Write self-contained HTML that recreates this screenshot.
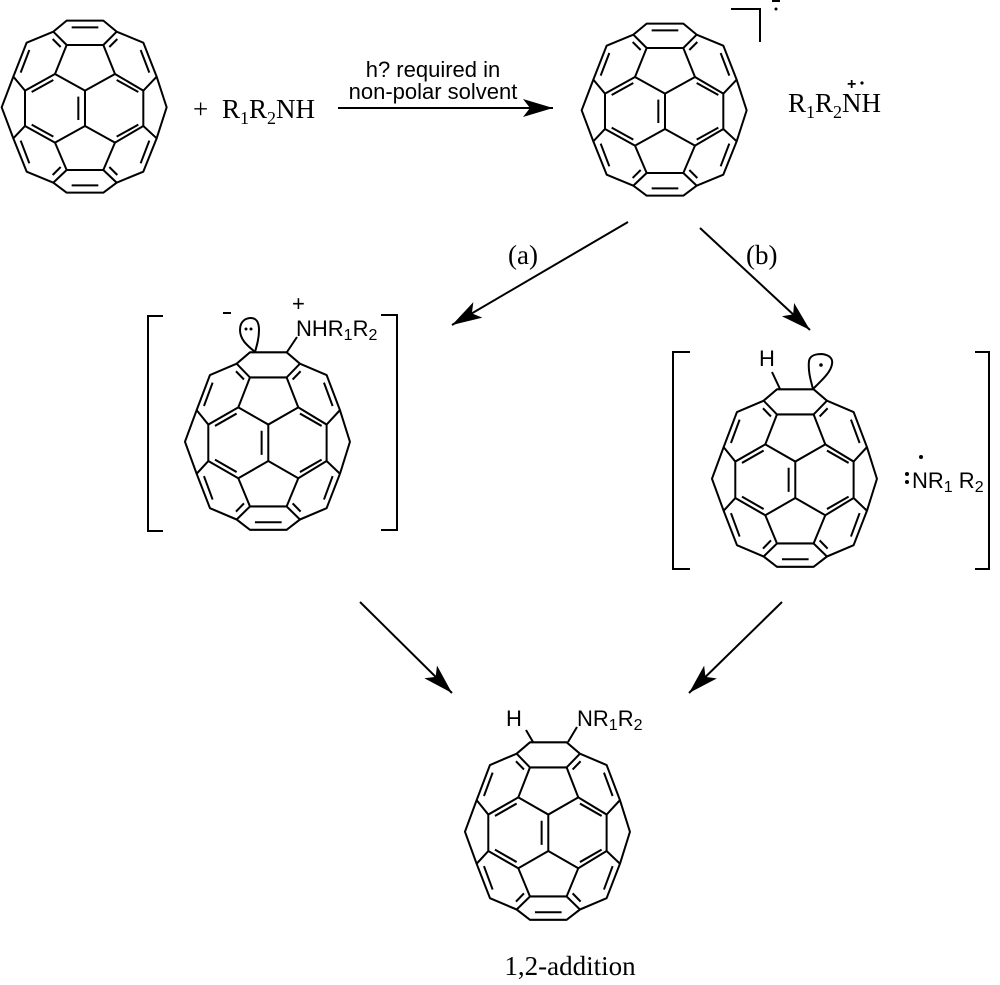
<!DOCTYPE html>
<html><head><meta charset="utf-8"><style>
body{margin:0;background:#fff}
svg{display:block}
.s{font-family:"Liberation Serif",serif;font-size:27px}
.a{font-family:"Liberation Sans",sans-serif;font-size:22px}
</style></head><body>
<svg width="1000" height="985" viewBox="0 0 1000 985" xmlns="http://www.w3.org/2000/svg">
<defs>
<marker id="ah" markerUnits="userSpaceOnUse" markerWidth="32" markerHeight="20" refX="30" refY="9" orient="auto">
<path d="M0,0 L30,9 L0,18 L7,9 Z" fill="#000"/>
</marker>
<g id="cage" fill="none" stroke="#000" stroke-width="6" stroke-linejoin="round">
<path d="M200,62 L310,62 L350,95 L430,128 L470,230 L500,322 L470,415 L430,515 L350,548 L310,578 L200,578 L160,548 L80,515 L40,415 L5,322 L40,230 L80,128 L160,95 Z"/>
<path d="M160,95 L200,135 L310,135 L350,95"/>
<path d="M200,135 L165,222 L255,272 L345,222 L310,135"/>
<path d="M40,230 L75,272 L165,222 M75,272 L75,378 L40,415 M75,378 L165,428 L255,378 L255,272 M255,378 L345,428 L430,378 L430,272 L345,222 M430,272 L470,230 M430,378 L470,415 M165,428 L200,510 L310,510 L345,428 M200,510 L160,548 M310,510 L350,548"/>
<path d="M158,117 L182,141 M352,117 L328,141 M88,150 L62,218 M422,150 L448,218 M160,240 L95,276 M350,240 L415,276 M235,290 L235,360 M95,374 L160,410 M415,374 L350,410 M62,422 L88,490 M448,422 L422,490 M158,525 L182,501 M328,501 L352,525 M215,556 L295,556"/>
</g>
<g id="full"><use href="#cage"/><path d="M215,82 L295,82" stroke="#000" stroke-width="6"/></g>
</defs>

<!-- C60 1 -->
<g transform="translate(0,0) scale(0.3333)"><use href="#full"/></g>
<text class="s" x="193" y="118">+</text>
<text class="s" x="222" y="118">R<tspan font-size="18" dy="6">1</tspan><tspan dy="-6">R</tspan><tspan font-size="18" dy="6">2</tspan><tspan dy="-6">NH</tspan></text>
<line x1="338" y1="108" x2="553" y2="108" stroke="#000" stroke-width="2" marker-end="url(#ah)"/>
<text class="a" x="433" y="77" text-anchor="middle" font-size="18">h? required in</text>
<text class="a" x="433" y="99" text-anchor="middle" font-size="18">non-polar solvent</text>

<!-- C60 2 -->
<g transform="translate(580,3) scale(0.3333)"><use href="#full"/></g>
<path d="M731,9 L760,9 L760,42" fill="none" stroke="#000" stroke-width="2"/>
<circle cx="776" cy="9" r="1.5"/><line x1="772" y1="1" x2="780" y2="1" stroke="#000" stroke-width="2"/>
<text class="s" x="788" y="112">R<tspan font-size="18" dy="6">1</tspan><tspan dy="-6">R</tspan><tspan font-size="18" dy="6">2</tspan><tspan dy="-6">NH</tspan></text>
<text x="847" y="89" font-family="Liberation Sans" font-size="16" font-weight="bold">+</text><circle cx="862" cy="83" r="1.6"/>

<!-- arrows a,b -->
<line x1="628" y1="222" x2="452" y2="325" stroke="#000" stroke-width="2" marker-end="url(#ah)"/>
<line x1="700" y1="228" x2="810" y2="330" stroke="#000" stroke-width="2" marker-end="url(#ah)"/>
<text class="s" x="508" y="264" font-size="24">(a)</text>
<text class="s" x="746" y="264" font-size="24">(b)</text>

<!-- intermediate a -->
<g transform="translate(183.3,331) scale(0.3333,0.344)"><use href="#cage"/></g>
<path d="M163,316 L148,316 L148,531 L163,531 M381,315 L397,315 L397,530 L381,530" fill="none" stroke="#000" stroke-width="2"/>
<path d="M255,352 C248,346 240,340 240,330 C240,320 247,318 251,318 C256,318 259,322 259,330 C259,338 257,345 255,352" fill="none" stroke="#000" stroke-width="2"/>
<circle cx="246" cy="329" r="1.5"/><circle cx="251" cy="329" r="1.5"/>
<line x1="223" y1="313" x2="231" y2="313" stroke="#000" stroke-width="2"/>
<line x1="287" y1="352" x2="297" y2="337" stroke="#000" stroke-width="2"/>
<text class="a" x="296" y="336">NHR<tspan font-size="16" dy="4">1</tspan><tspan dy="-4">R</tspan><tspan font-size="16" dy="4">2</tspan></text>
<text class="a" x="292" y="311" font-size="18">+</text>

<!-- intermediate b -->
<g transform="translate(710.3,368) scale(0.3333,0.344)"><use href="#cage"/></g>
<path d="M690,352 L673,352 L673,569 L690,569 M975,352 L989,352 L989,569 L975,569" fill="none" stroke="#000" stroke-width="2"/>
<text class="a" x="759" y="366">H</text>
<line x1="780" y1="389" x2="772" y2="372" stroke="#000" stroke-width="2"/>
<path d="M813,389 C810,378 808,370 809,361 C810,355 816,354 822,354 C830,355 833,359 832,364 C831,372 822,380 813,389" fill="none" stroke="#000" stroke-width="2"/>
<circle cx="821" cy="365" r="1.8"/>
<circle cx="907" cy="474" r="2"/><circle cx="907" cy="482" r="2"/>
<circle cx="921" cy="457" r="2"/>
<text class="a" x="912" y="488">NR<tspan font-size="16" dy="4">1</tspan><tspan dy="-4"> R</tspan><tspan font-size="16" dy="4">2</tspan></text>

<!-- arrows to product -->
<line x1="360" y1="602" x2="452" y2="693" stroke="#000" stroke-width="2" marker-end="url(#ah)"/>
<line x1="782" y1="602" x2="689" y2="693" stroke="#000" stroke-width="2" marker-end="url(#ah)"/>

<!-- product -->
<g transform="translate(463.3,721) scale(0.3333,0.344)"><use href="#cage"/></g>
<text class="a" x="506" y="726">H</text>
<line x1="533" y1="742" x2="526" y2="730" stroke="#000" stroke-width="2"/>
<line x1="568" y1="742" x2="577" y2="727" stroke="#000" stroke-width="2"/>
<text class="a" x="577" y="726">NR<tspan font-size="16" dy="4">1</tspan><tspan dy="-4">R</tspan><tspan font-size="16" dy="4">2</tspan></text>
<text class="s" x="570" y="975" text-anchor="middle" font-size="22">1,2-addition</text>
</svg>
</body></html>
